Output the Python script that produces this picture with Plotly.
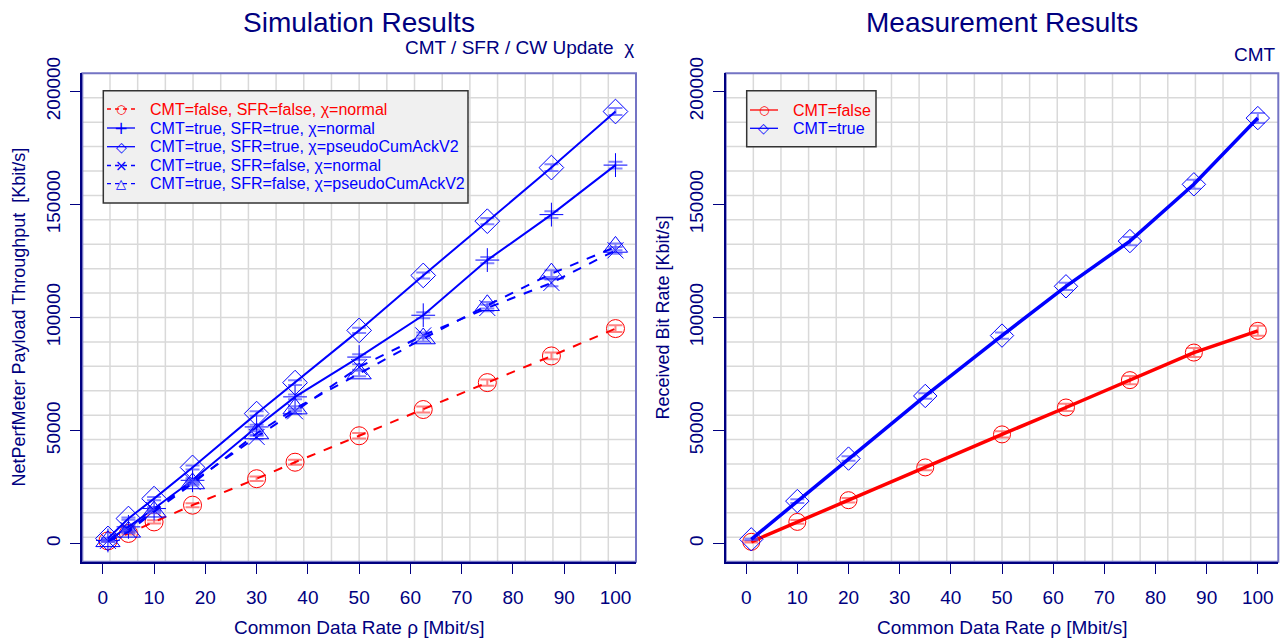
import plotly.graph_objects as go

# ---------------- data ----------------
sim_x = [1, 5, 10, 17.5, 30, 37.5, 50, 62.5, 75, 87.5, 100]
sim_ff_normal = [1200, 4500, 9600, 17000, 28700, 36000, 47700, 59300, 71200, 83000, 95100]
sim_tt_normal = [1400, 7400, 15500, 28000, 51600, 64900, 82500, 101000, 125400, 145500, 167400]
sim_tt_pseudo = [2300, 11100, 19900, 33700, 57500, 71200, 94300, 118600, 142600, 166300, 191100]
sim_tf_normal = [1200, 6000, 14800, 27300, 47200, 58500, 78100, 92100, 104200, 115300, 129700]
sim_tf_pseudo = [1000, 5200, 14100, 26600, 48700, 59700, 75200, 90700, 105400, 119400, 131200]
sim_ci = [300, 500, 700, 900, 1000, 1100, 1200, 1300, 1400, 1500, 1500]

meas_x = [1, 10, 20, 35, 50, 62.5, 75, 87.5, 100]
meas_false = [800, 9600, 19200, 33700, 48300, 60200, 72300, 84500, 94100]
meas_true = [1900, 18800, 37600, 65300, 92000, 113800, 133800, 158900, 188200]
meas_ci = [300, 800, 1000, 1200, 1400, 1600, 1800, 2000, 2200]

sim_names = ["CMT=false, SFR=false, χ=normal",
             "CMT=true, SFR=true, χ=normal",
             "CMT=true, SFR=true, χ=pseudoCumAckV2",
             "CMT=true, SFR=false, χ=normal",
             "CMT=true, SFR=false, χ=pseudoCumAckV2"]
meas_names = ["CMT=false", "CMT=true"]

x_ticks = [0, 10, 20, 30, 40, 50, 60, 70, 80, 90, 100]
y_ticks = [0, 50000, 100000, 150000, 200000]

NAVY = "#000080"
RED = "#ff0000"
BLUE = "#0000ff"
FONT = "Liberation Sans"
W, H = 1284, 639

fig = go.Figure()


def add(x, y, name, color, dash, symbol, size, lw, xa, ya, ci):
    fig.add_trace(go.Scatter(
        x=x, y=y, name=name, mode="lines+markers", showlegend=False,
        line=dict(color=color, width=lw, dash=dash),
        marker=dict(symbol=symbol, size=size, color=color,
                    line=dict(color=color, width=1)),
        error_y=dict(type="data", array=ci, visible=True,
                     color="rgba(80,80,255,0.7)" if color == BLUE else "rgba(255,80,80,0.7)",
                     thickness=2, width=7),
        xaxis=xa, yaxis=ya,
    ))


sim_series = [sim_ff_normal, sim_tt_normal, sim_tt_pseudo, sim_tf_normal, sim_tf_pseudo]
sim_style = [(RED, "dash", "circle-open", 18, "○", 12),
             (BLUE, "solid", "cross-thin-open", 17, "+", 17),
             (BLUE, "solid", "diamond-open", 19, "◇", 14),
             (BLUE, "dash", "x-thin-open", 16, "×", 15),
             (BLUE, "dash", "triangle-up-open", 21, "△", 13)]
for ys, nm, st in zip(sim_series, sim_names, sim_style):
    add(sim_x, ys, nm, st[0], st[1], st[2], st[3], 2, "x", "y", sim_ci)

meas_series = [meas_false, meas_true]
meas_style = [(RED, "solid", "circle-open", 17, "○", 12),
              (BLUE, "solid", "diamond-open", 18, "◇", 14)]
for ys, nm, st in zip(meas_series, meas_names, meas_style):
    add(meas_x, ys, nm, st[0], st[1], st[2], st[3], 3.5, "x2", "y2", meas_ci)

X1 = [82.3 / W, 636 / W]
X2 = [725.7 / W, 1278.3 / W]
YD = [1 - 561.7 / H, 1 - 73.3 / H]

xcommon = dict(range=[-4, 104], tickvals=x_ticks, ticktext=[str(v) for v in x_ticks],
               ticks="outside", ticklen=11, automargin=False,
               tickcolor=NAVY, tickwidth=1.2, showgrid=False, zeroline=False,
               showline=True, linecolor=NAVY, linewidth=1.5,
               tickfont=dict(family=FONT, size=19, color=NAVY), ticklabelstandoff=7)
ycommon = dict(range=[-8000, 208000], tickvals=y_ticks, ticktext=[str(v) for v in y_ticks],
               ticks="outside", ticklen=11, automargin=False,
               tickcolor=NAVY, tickwidth=1.2, showgrid=False, zeroline=False,
               showline=True, linecolor=NAVY, linewidth=1.5, tickangle=-90,
               tickfont=dict(family=FONT, size=19, color=NAVY), domain=YD,
               ticklabelstandoff=2)

shapes = []
for xr, yr in (("x domain", "y domain"), ("x2 domain", "y2 domain")):
    for k in range(1, 20):
        f = k / 20
        shapes.append(dict(type="line", xref=xr, yref=yr, x0=f, x1=f, y0=0, y1=1,
                           line=dict(color="#d9d9d9", width=1.5), layer="below"))
        shapes.append(dict(type="line", xref=xr, yref=yr, x0=0, x1=1, y0=f, y1=f,
                           line=dict(color="#d9d9d9", width=1.5), layer="below"))
    shapes.append(dict(type="rect", xref=xr, yref=yr, x0=0, x1=1, y0=0, y1=1,
                       line=dict(color="#7474c4", width=2), layer="below"))


def px(v):
    return v / W


def py(v):
    return 1 - v / H


annotations = [
    dict(text="Simulation Results", x=(X1[0] + X1[1]) / 2, y=py(22), xref="paper", yref="paper",
         showarrow=False, font=dict(family=FONT, size=28, color=NAVY), xanchor="center", yanchor="middle"),
    dict(text="Measurement Results", x=(X2[0] + X2[1]) / 2, y=py(22), xref="paper", yref="paper",
         showarrow=False, font=dict(family=FONT, size=28, color=NAVY), xanchor="center", yanchor="middle"),
    dict(text="CMT / SFR / CW Update  χ", x=X1[1], y=py(48), xref="paper", yref="paper",
         showarrow=False, font=dict(family=FONT, size=19, color=NAVY), xanchor="right", yanchor="middle"),
    dict(text="CMT", x=X2[1], y=py(54), xref="paper", yref="paper",
         showarrow=False, font=dict(family=FONT, size=19, color=NAVY), xanchor="right", yanchor="middle"),
    dict(text="Common Data Rate ρ [Mbit/s]", x=(X1[0] + X1[1]) / 2, y=py(627), xref="paper", yref="paper",
         showarrow=False, font=dict(family=FONT, size=19, color=NAVY), xanchor="center", yanchor="middle"),
    dict(text="Common Data Rate ρ [Mbit/s]", x=(X2[0] + X2[1]) / 2, y=py(627), xref="paper", yref="paper",
         showarrow=False, font=dict(family=FONT, size=19, color=NAVY), xanchor="center", yanchor="middle"),
    dict(text="NetPerfMeter Payload Throughput  [Kbit/s]", x=px(19), y=(YD[0] + YD[1]) / 2, xref="paper", yref="paper",
         showarrow=False, textangle=-90, font=dict(family=FONT, size=18, color=NAVY), xanchor="center", yanchor="middle"),
    dict(text="Received Bit Rate [Kbit/s]", x=px(663), y=(YD[0] + YD[1]) / 2, xref="paper", yref="paper",
         showarrow=False, textangle=-90, font=dict(family=FONT, size=18, color=NAVY), xanchor="center", yanchor="middle"),
]


# ---------------- legends (drawn as keys) ----------------
def legend_box(x0, y0, x1, y1, rows, names, styles, lx0, lx1, tx):
    shapes.append(dict(type="rect", xref="paper", yref="paper", x0=px(x0), x1=px(x1),
                       y0=py(y1), y1=py(y0), fillcolor="#f0f0f0",
                       line=dict(color="#333333", width=1.5), layer="above"))
    for ry, nm, st in zip(rows, names, styles):
        color, dash = st[0], st[1]
        shapes.append(dict(type="line", xref="paper", yref="paper", x0=px(lx0), x1=px(lx1),
                           y0=py(ry), y1=py(ry), layer="above",
                           line=dict(color=color, width=1.3,
                                     dash="4px,4px" if dash == "dash" else "solid")))
        annotations.append(dict(text=st[4], x=px((lx0 + lx1) / 2), y=py(ry), xref="paper", yref="paper",
                                showarrow=False, xanchor="center", yanchor="middle",
                                font=dict(family="DejaVu Sans", size=st[5], color=color),
                                bgcolor="rgba(0,0,0,0)"))
        annotations.append(dict(text=nm, x=px(tx), y=py(ry), xref="paper", yref="paper",
                                showarrow=False, xanchor="left", yanchor="middle",
                                font=dict(family=FONT, size=16, color=color)))


legend_box(103.3, 90.7, 468, 203, [109, 128, 146.7, 165.5, 183.7], sim_names, sim_style, 107, 135, 148)
legend_box(746.7, 90.7, 876, 146.7, [110, 128.3], meas_names, meas_style, 750, 778, 791)

fig.update_layout(
    width=W, height=H, margin=dict(l=0, r=0, t=0, b=0),
    paper_bgcolor="white", plot_bgcolor="white",
    xaxis=dict(domain=X1, anchor="y", **xcommon),
    yaxis=dict(anchor="x", **ycommon),
    xaxis2=dict(domain=X2, anchor="y2", **xcommon),
    yaxis2=dict(anchor="x2", **ycommon),
    shapes=shapes, annotations=annotations,
    showlegend=False,
)

fig.write_html("out.html", config={"displayModeBar": False},
               post_script="document.documentElement.style.margin='0';"
                           "document.body.style.margin='0';document.body.style.padding='0';"
                           "document.body.style.overflow='hidden';")
